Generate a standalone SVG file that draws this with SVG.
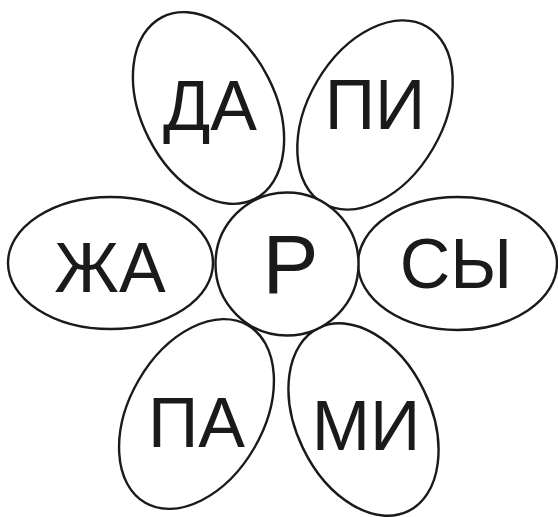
<svg xmlns="http://www.w3.org/2000/svg" width="558" height="517" viewBox="0 0 558 517">
<style>
.shape{fill:#ffffff;stroke:#1a1a1a;stroke-width:2.4}
.lbl{font-family:"Liberation Sans",Arial,sans-serif;font-size:70px;fill:#1a1a1a;text-anchor:middle}
.ctr{font-size:84px}
</style>
<rect width="558" height="517" fill="#ffffff"/>
<g id="connectors"></g>
<g id="petal-da">
<ellipse class="shape" cx="208.5" cy="108" rx="67" ry="102" transform="rotate(-27 208.5 108)"/>
<text class="lbl" x="210" y="130">ДА</text>
</g>
<g id="petal-pi">
<ellipse class="shape" cx="375" cy="115" rx="67" ry="102.5" transform="rotate(30.5 375 115)"/>
<text class="lbl" x="375" y="129">ПИ</text>
</g>
<g id="petal-zha">
<ellipse class="shape" cx="110.5" cy="263" rx="102.5" ry="66"/>
<text class="lbl" x="110" y="292">ЖА</text>
</g>
<g id="petal-sy">
<ellipse class="shape" cx="457.5" cy="263.5" rx="99.5" ry="66.5"/>
<text class="lbl" x="456" y="288">СЫ</text>
</g>
<g id="petal-pa">
<ellipse class="shape" cx="196.5" cy="414" rx="67" ry="102.5" transform="rotate(30 196.5 414)"/>
<text class="lbl" x="196.5" y="447">ПА</text>
</g>
<g id="petal-mi">
<ellipse class="shape" cx="363.5" cy="419.5" rx="67" ry="102" transform="rotate(-26 363.5 419.5)"/>
<text class="lbl" x="366" y="450">МИ</text>
</g>
<g id="center">
<circle class="shape" cx="287" cy="264" r="71.5"/>
<text class="lbl ctr" x="290.5" y="293">Р</text>
</g>
</svg>
